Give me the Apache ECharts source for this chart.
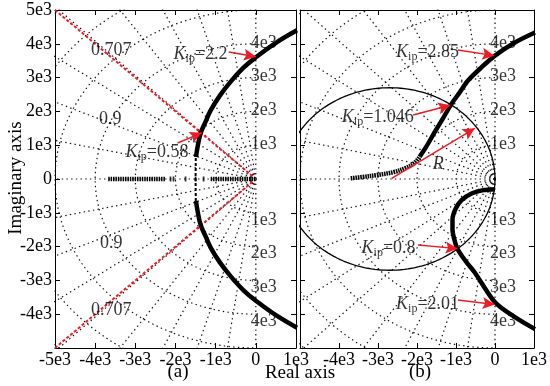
<!DOCTYPE html>
<html><head><meta charset="utf-8">
<script src="https://cdn.jsdelivr.net/npm/echarts@6/dist/echarts.min.js"></script>
<style>html,body{margin:0;padding:0;background:#fff}#c{width:550px;height:386px}</style>
</head><body><div id="c"></div>
<script>
// ---------- tick labels ----------
const xTickLabelsA = ['-5e3','-4e3','-3e3','-2e3','-1e3','0','1e3'];
const xTickLabelsB = ['','-4e3','-3e3','-2e3','-1e3','0','1e3'];
const yTickLabelsA = ['','-4e3','-3e3','-2e3','-1e3','0','1e3','2e3','3e3','4e3','5e3'];

// ---------- s-plane grid (damping ratios, natural frequencies) ----------
const dampingRatios = [0, 0.14, 0.28, 0.42, 0.56, 0.7, 0.81, 0.91, 0.975, 1];
const naturalFreqs = [1000, 2000, 3000, 4000, 5000, 6000, 7000];
const wnLabelValues = [1000, 2000, 3000, 4000];
const wnLabelTexts = ['1e3', '2e3', '3e3', '4e3'];

// ---------- panel (a) ----------
const dampLineA = [[[-5000, 5000], [0, 0]], [[-5000, -5000], [0, 0]]];   // zeta = 0.707
const locusAUp = [[-1490,650],[-1450,950],[-1375,1353],[-1250,1700],[-1125,2030],[-900,2460],[-625,2880],[-300,3300],[0,3600],[500,4030],[1025,4400]];
const locusADown = [[-1490,-650],[-1450,-950],[-1375,-1353],[-1250,-1700],[-1125,-2030],[-900,-2460],[-625,-2880],[-300,-3300],[0,-3600],[500,-4030],[1025,-4400]];
const locusAThin = [[-1495,-650],[-1500,0],[-1495,650]];
const realADense = [[[-3675,0],[-2250,0]], [[-1125,0],[0,0]]];
const realAMarks = [-2125, -2050, -1750, -1500, -1300];
const zetaLabelsA = [['0.707', -3600, 3800], ['0.9', -3625, 1775], ['0.9', -3600, -1908], ['0.707', -3600, -3876]];
const kLabelsA = [['=2.2', -1375, 3700], ['=0.58', -2462, 784]];
const arrowsA = [[[-675, 3757], [0, 3620]], [[-1950, 1065], [-1345, 1365]]];

// ---------- panel (b) ----------
const circleB = [-2700, 0, 2700];   // centre x, centre y, radius R
const locusBUpMarks = [[-3700,20],[-3400,60],[-3017,118],[-2592,206],[-2300,320],[-2067,470],[-1933,656]];
const locusBUp = [[-1933,656],[-1750,980],[-1540,1400],[-1330,1800],[-1142,2176],[-900,2570],[-692,2912],[-350,3300],[0,3650],[500,4030],[1025,4332]];
const locusBDown = [[0,-300],[-300,-330],[-600,-430],[-850,-620],[-1010,-880],[-1090,-1200],[-1090,-1500],[-1040,-1800],[-975,-2040],[-760,-2420],[-520,-2765],[0,-3647],[500,-4080],[1025,-4441]];
const kLabelsB = [['=2.85', -1730, 3757], ['=1.046', -3005, 1820], ['=0.8', -2730, -2041], ['=2.01', -1730, -3698]];
const arrowsB = [[[-950, 3817], [-20, 3650]], [[-2100, 1893], [-1150, 2180]], [[-1975, -1953], [-960, -2060]], [[-950, -3580], [-10, -3710]], [[-2650, 20], [-520, 1500]]];
const rLabelB = ['R', -1455, 444];

// ---------- styling ----------
const FONT = '"Liberation Serif", "Times New Roman", serif';
const RED = '#ee1c24';
const GRIDDOT = { color: '#111', width: 1.2, type: [1.4, 3.3] };
// arrow head: tip at the centre of a 24x24 box
const ARROW = 'path://M-6 -12M18 12M6 0L12 12L6 9.5L0 12Z';

const chart = echarts.init(document.getElementById('c'));

function xAx(gridIndex, position, labels) {
  return {
    type: 'value', gridIndex, position, min: -5000, max: 1000, interval: 1000,
    axisLine: { show: true, onZero: false, lineStyle: { color: '#000', width: 1 } },
    axisTick: { show: true, inside: true, length: 5, lineStyle: { color: '#000' } },
    splitLine: { show: false },
    axisLabel: labels ? {
      show: true, color: '#000', fontFamily: FONT, fontSize: 18, margin: 3,
      showMinLabel: true, showMaxLabel: true,
      formatter: v => labels[Math.round((v + 5000) / 1000)]
    } : { show: false }
  };
}
function yAx(gridIndex, position, labels) {
  return {
    type: 'value', gridIndex, position, min: -5000, max: 5000, interval: 1000,
    axisLine: { show: true, onZero: false, lineStyle: { color: '#000', width: 1 } },
    axisTick: { show: true, inside: true, length: 5, lineStyle: { color: '#000' } },
    splitLine: { show: false },
    axisLabel: labels ? {
      show: true, color: '#000', fontFamily: FONT, fontSize: 18, margin: 3,
      showMinLabel: true, showMaxLabel: true,
      formatter: v => labels[Math.round((v + 5000) / 1000)]
    } : { show: false }
  };
}

function lineS(xi, data, style, z, smooth) {
  return { type: 'line', xAxisIndex: xi, yAxisIndex: xi, data, symbol: 'none', silent: true,
    smooth: smooth || false, clip: true, lineStyle: style, z: z || 2, animation: false };
}

function sGrid(xi) {
  const out = [];
  dampingRatios.forEach(zeta => {
    const s = Math.sqrt(1 - zeta * zeta), R = 9000;
    out.push(lineS(xi, [[0, 0], [-R * zeta, R * s]], GRIDDOT, 1));
    if (zeta < 1) out.push(lineS(xi, [[0, 0], [-R * zeta, -R * s]], GRIDDOT, 1));
  });
  naturalFreqs.forEach(w => {
    const pts = [];
    for (let a = 90; a <= 270; a += 2) { const t = a * Math.PI / 180; pts.push([w * Math.cos(t), w * Math.sin(t)]); }
    out.push(lineS(xi, pts, GRIDDOT, 1));
  });
  const data = [];
  wnLabelValues.forEach((w, i) => {
    data.push({ value: [0, w], label: { formatter: wnLabelTexts[i], offset: [8, -1] } });
    data.push({ value: [0, -w], label: { formatter: wnLabelTexts[i], offset: [8, 7] } });
  });
  out.push(textS(xi, data, 7));
  return out;
}

const RICH = {
  k: { fontFamily: FONT, fontSize: 18, fontStyle: 'italic', lineHeight: 21, color: '#000' },
  s: { fontFamily: FONT, fontSize: 12, lineHeight: 12, verticalAlign: 'bottom', color: '#000' },
  n: { fontFamily: FONT, fontSize: 18, lineHeight: 21, color: '#000' },
  r: { fontFamily: FONT, fontSize: 18, fontStyle: 'italic', lineHeight: 21, color: '#000' }
};

function textS(xi, data, z) {
  return { type: 'scatter', xAxisIndex: xi, yAxisIndex: xi, data, symbolSize: 1, silent: true,
    itemStyle: { color: 'rgba(0,0,0,0)' }, z: z || 8, animation: false,
    label: { show: true, position: 'inside', color: '#000', fontFamily: FONT, fontSize: 18, rich: RICH } };
}

function kLabels(xi, list) {
  return textS(xi, list.map(d => ({ value: [d[1], d[2]], label: { formatter: '{k|K}{s|ip}{n|' + d[0] + '}' } })), 9);
}

function arrows(xi, list) {
  return { type: 'line', xAxisIndex: xi, yAxisIndex: xi, data: [], silent: true, z: 8, animation: false,
    markLine: { silent: true, animation: false,
      symbol: ['none', ARROW], symbolSize: 24,
      label: { show: false }, emphasis: { disabled: true },
      lineStyle: { color: RED, width: 1.5, type: 'solid' }, itemStyle: { color: RED },
      data: list.map(a => [{ coord: a[0] }, { coord: a[1] }]) } };
}

const series = [];
// panel (a)
series.push(...sGrid(0));
dampLineA.forEach(l => series.push(lineS(0, l, { color: RED, width: 2, type: [3, 2] }, 3)));
series.push(lineS(0, locusAThin, { color: '#000', width: 2, type: [3, 2] }, 4));
series.push(lineS(0, locusAUp, { color: '#000', width: 4.5 }, 4, 0.4));
series.push(lineS(0, locusADown, { color: '#000', width: 4.5 }, 4, 0.4));
realADense.forEach(l => series.push(lineS(0, l, { color: '#000', width: 4.5, type: [1.5, 0.9] }, 4)));
series.push({ type: 'scatter', xAxisIndex: 0, yAxisIndex: 0, data: realAMarks.map(x => [x, 0]),
  symbol: 'rect', symbolSize: [1.8, 5], itemStyle: { color: '#000' }, silent: true, z: 4, animation: false });
series.push(textS(0, zetaLabelsA.map(d => ({ value: [d[1], d[2]], label: { formatter: d[0] } })), 7));
series.push(kLabels(0, kLabelsA));
series.push(arrows(0, arrowsA));

// panel (b)
series.push(...sGrid(2));
(function () {
  const pts = [];
  for (let a = 0; a <= 360; a += 2) { const t = a * Math.PI / 180; pts.push([circleB[0] + circleB[2] * Math.cos(t), circleB[1] + circleB[2] * Math.sin(t)]); }
  series.push(lineS(2, pts, { color: '#000', width: 1.3 }, 3));
})();
series.push(lineS(2, locusBUpMarks, { color: '#000', width: 4.5, type: [1.6, 0.8] }, 4, 0.4));
series.push(lineS(2, locusBUp, { color: '#000', width: 4.5 }, 4, 0.3));
series.push(lineS(2, locusBDown, { color: '#000', width: 4.5 }, 4, 0.3));
series.push(kLabels(2, kLabelsB));
series.push(textS(2, [{ value: [rLabelB[1], rLabelB[2]], label: { formatter: '{r|' + rLabelB[0] + '}' } }], 9));
series.push(arrows(2, arrowsB));

chart.setOption({
  animation: false,
  backgroundColor: '#fff',
  grid: [
    { left: 55, top: 10, width: 241, height: 338 },
    { left: 300, top: 10, width: 242, height: 338 }
  ],
  xAxis: [xAx(0, 'bottom', xTickLabelsA), xAx(0, 'top', null), xAx(1, 'bottom', xTickLabelsB), xAx(1, 'top', null)],
  yAxis: [yAx(0, 'left', yTickLabelsA), yAx(0, 'right', null), yAx(1, 'left', null), yAx(1, 'right', null)],
  graphic: [
    { type: 'text', x: 16.5, y: 178, rotation: Math.PI / 2, style: { text: 'Imaginary axis', font: '19px ' + FONT, fill: '#000', align: 'center', verticalAlign: 'middle' } },
    { type: 'text', x: 300, y: 373, style: { text: 'Real axis', font: '19px ' + FONT, fill: '#000', align: 'center', verticalAlign: 'middle' } },
    { type: 'text', x: 178, y: 372, style: { text: '(a)', font: '19px ' + FONT, fill: '#000', align: 'center', verticalAlign: 'middle' } },
    { type: 'text', x: 420, y: 372, style: { text: '(b)', font: '19px ' + FONT, fill: '#000', align: 'center', verticalAlign: 'middle' } }
  ],
  series
});
</script></body></html>
